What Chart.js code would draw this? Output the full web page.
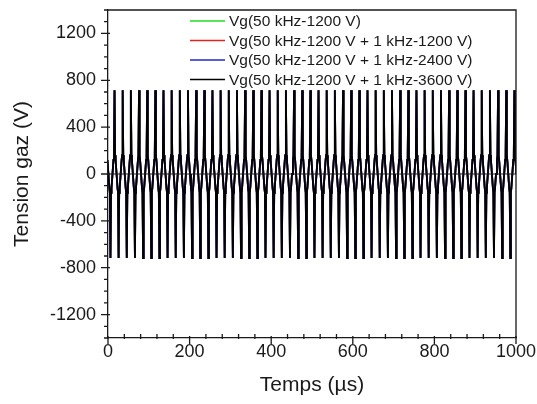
<!DOCTYPE html>
<html>
<head>
<meta charset="utf-8">
<script src="https://cdn.jsdelivr.net/npm/chart.js@4.4.1/dist/chart.umd.min.js"></script>
<style>
html, body { margin: 0; padding: 0; background: #fff; }
</style>
</head>
<body>
<canvas id="chart" width="537" height="404"></canvas>
<script>
// legend entries, one per curve
const seriesLabels = [
    'Vg(50 kHz-1200 V)',
    'Vg(50 kHz-1200 V + 1 kHz-1200 V)',
    'Vg(50 kHz-1200 V + 1 kHz-2400 V)',
    'Vg(50 kHz-1200 V + 1 kHz-3600 V)'
];
const seriesColors = ['#22dd22', '#dd2424', '#2424d0', '#000000'];

const xTicks = [0, 200, 400, 600, 800, 1000];
const yTicks = [-1200, -800, -400, 0, 400, 800, 1200];

// one 50 kHz cycle (starts at the positive spike)
const periodUs = 20;
const firstPeakUs = -4;
const cycleCount = 52;
const cycleOffsetUs = [0, 1.4, 2.6, 5, 7.4, 8.6, 10, 11.4, 12.6, 15, 17.4, 18.6];
const cycleVg = [715, 160, 120, 0, -120, -160, -718, -160, -120, 0, 120, 160];

const font = "'Liberation Sans', Arial, sans-serif";
const ink = '#1a1a1a';

function cyclePoints() {
    const pts = [];
    for (let k = 0; k < cycleCount; k++) {
        const t0 = firstPeakUs + k * periodUs;
        cycleOffsetUs.forEach((off, j) => pts.push({ x: t0 + off, y: cycleVg[j] }));
    }
    return pts;
}

const vgPoints = cyclePoints();

const datasets = seriesLabels.map((label, i) => ({
    label,
    data: vgPoints,
    borderColor: seriesColors[i],
    borderWidth: 1.8,
    pointRadius: 0,
    tension: 0,
    order: seriesLabels.length - 1 - i
}));

const framePlugin = {
    id: 'frame',
    afterDatasetsDraw(chart) {
        const { ctx, chartArea: a, scales: { y } } = chart;
        ctx.save();
        ctx.strokeStyle = ink;
        ctx.lineWidth = 1.2;
        const y0 = y.getPixelForValue(0);
        ctx.beginPath();
        ctx.moveTo(a.left, y0);
        ctx.lineTo(a.right, y0);
        ctx.stroke();
        ctx.restore();
    },
    afterDraw(chart) {
        const { ctx, chartArea: a, scales: { x, y } } = chart;
        ctx.save();
        ctx.strokeStyle = ink;
        ctx.lineWidth = 1.3;
        ctx.beginPath();
        ctx.moveTo(a.left, a.top);
        ctx.lineTo(a.right, a.top);
        ctx.lineTo(a.right, a.bottom);
        ctx.stroke();

        // x ticks: major every 200, minor every 40
        ctx.beginPath();
        for (let v = 0; v <= 1000; v += 40) {
            const px = x.getPixelForValue(v);
            if (xTicks.includes(v)) {
                ctx.moveTo(px, a.bottom - 2);
                ctx.lineTo(px, a.bottom + 6);
            } else {
                ctx.moveTo(px, a.bottom - 4);
                ctx.lineTo(px, a.bottom + 1);
            }
        }
        // y ticks: major every 400, minor every 100
        for (let v = -1400; v <= 1400; v += 100) {
            const py = y.getPixelForValue(v);
            if (yTicks.includes(v)) {
                ctx.moveTo(a.left - 7, py);
                ctx.lineTo(a.left + 2, py);
            } else {
                ctx.moveTo(a.left - 4, py);
                ctx.lineTo(a.left, py);
            }
        }
        ctx.stroke();

        // legend inside the plot
        ctx.font = '15.5px ' + font;
        ctx.textBaseline = 'middle';
        ctx.fillStyle = ink;
        chart.data.datasets.forEach((ds, i) => {
            const ly = a.top + 11 + i * 19.5;
            ctx.strokeStyle = ds.borderColor;
            ctx.lineWidth = 1.6;
            ctx.beginPath();
            ctx.moveTo(a.left + 82, ly);
            ctx.lineTo(a.left + 117, ly);
            ctx.stroke();
            ctx.fillText(ds.label, a.left + 121, ly + 1);
        });
        ctx.restore();
    }
};

new Chart(document.getElementById('chart'), {
    type: 'line',
    data: { datasets },
    options: {
        responsive: false,
        animation: false,
        devicePixelRatio: 1,
        layout: { padding: { left: 0, top: 10, right: 21, bottom: 0 } },
        plugins: { legend: { display: false }, tooltip: { enabled: false } },
        scales: {
            x: {
                type: 'linear',
                min: 0,
                max: 1000,
                afterBuildTicks: s => { s.ticks = xTicks.map(v => ({ value: v })); },
                afterFit: s => { s.height = 66; s.paddingLeft = 0; s.paddingRight = 0; },
                grid: { display: false, drawTicks: false },
                border: { display: true, color: ink, width: 1.3 },
                ticks: {
                    font: { family: font, size: 18 }, color: ink, padding: 3,
                    maxRotation: 0, autoSkip: false, callback: v => String(v)
                },
                title: { display: true, text: 'Temps (µs)', font: { family: font, size: 21 }, color: ink, padding: { top: 0, bottom: 6 } }
            },
            y: {
                type: 'linear',
                min: -1400,
                max: 1400,
                afterBuildTicks: s => { s.ticks = yTicks.map(v => ({ value: v })); },
                afterFit: s => { s.width = 108; s.paddingTop = 0; s.paddingBottom = 0; },
                grid: { display: false, drawTicks: false },
                border: { display: true, color: ink, width: 1.3 },
                ticks: { font: { family: font, size: 18 }, color: ink, padding: 12, callback: v => String(v) },
                title: { display: true, text: 'Tension gaz (V)', font: { family: font, size: 21 }, color: ink, padding: { top: 10, bottom: 0 } }
            }
        }
    },
    plugins: [framePlugin]
});
</script>
</body>
</html>
